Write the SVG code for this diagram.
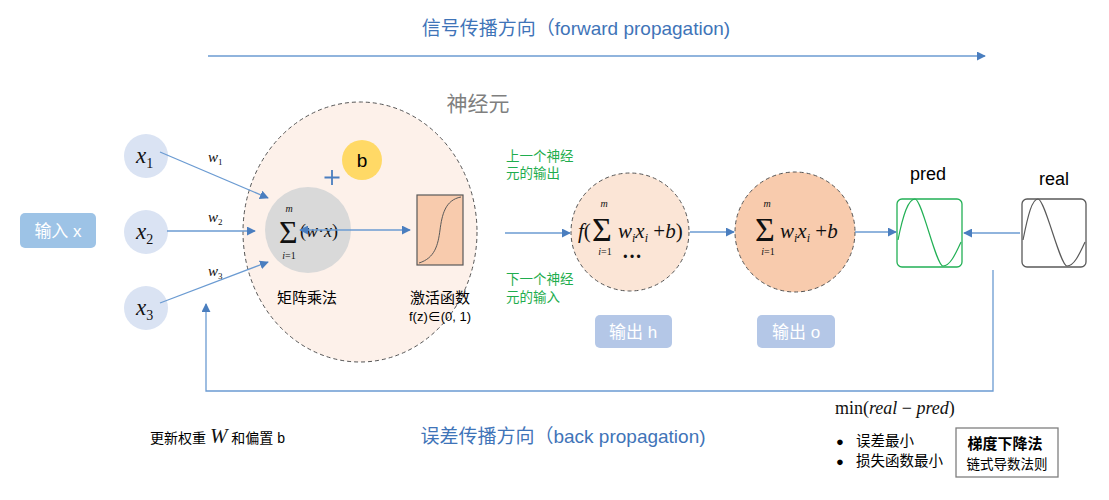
<svg xmlns="http://www.w3.org/2000/svg" width="1109" height="500" viewBox="0 0 1109 500">
<defs>
<marker id="arr" viewBox="0 0 10 10" refX="9" refY="5" markerWidth="9" markerHeight="9" markerUnits="userSpaceOnUse" orient="auto-start-reverse">
<path d="M0,0 L10,5 L0,10 z" fill="#4a7ebf"/>
</marker>
<style>
.line{stroke:#6b9bd2;stroke-width:1.3;fill:none}
.blue{font-family:"Liberation Sans","Noto Sans CJK SC",sans-serif;fill:#3f74b8}
.cn{font-family:"Liberation Sans","Noto Sans CJK SC",sans-serif}
.m{font-family:"Liberation Serif","DejaVu Serif",serif;font-style:italic;fill:#111}
.mu{font-family:"Liberation Serif","DejaVu Serif",serif;fill:#111}
.green{font-family:"Liberation Sans","Noto Sans CJK SC",sans-serif;fill:#1fad4e;font-size:13.5px}
.dash{stroke:#555;stroke-width:1;stroke-dasharray:4,3}
.tag{font-family:"Liberation Sans","Noto Sans CJK SC",sans-serif;fill:#fff;font-size:17px}
</style>
</defs>
<rect width="1109" height="500" fill="#fff"/>

<g id="titles">
<text class="blue" x="576" y="35" font-size="19" text-anchor="middle">信号传播方向（forward propagation)</text>
<text class="blue" x="563" y="443" font-size="19" text-anchor="middle">误差传播方向（back propagation)</text>
</g>

<g id="neuron">
<ellipse cx="360" cy="232" rx="117" ry="130" fill="#fdf1ea" class="dash"/>
<text class="cn" x="478" y="111" font-size="21" fill="#7f7f7f" text-anchor="middle">神经元</text>
</g>

<g id="input-label">
<rect x="20" y="213" width="76" height="35" rx="5" fill="#9dc3e6"/>
<text class="tag" x="58" y="237" text-anchor="middle">输入 x</text>
</g>

<g id="x1"><circle cx="146" cy="156" r="22" fill="#dae3f3"/>
<text class="m" x="136" y="163" font-size="23">x<tspan font-style="normal" font-size="14" dy="5">1</tspan></text></g>
<g id="x2"><circle cx="146" cy="232" r="22" fill="#dae3f3"/>
<text class="m" x="136" y="239" font-size="23">x<tspan font-style="normal" font-size="14" dy="5">2</tspan></text></g>
<g id="x3"><circle cx="146" cy="308" r="22" fill="#dae3f3"/>
<text class="m" x="136" y="315" font-size="23">x<tspan font-style="normal" font-size="14" dy="5">3</tspan></text></g>

<g id="sum">
<circle cx="308" cy="230" r="43" fill="#d9d9d9"/>
<text class="mu" x="279" y="243" font-size="32">Σ</text>
<text class="m" x="289" y="212" font-size="10" text-anchor="middle">m</text>
<text class="m" x="289" y="259" font-size="10" text-anchor="middle">i<tspan font-style="normal">=1</tspan></text>
<text class="m" x="300" y="237" font-size="18"><tspan font-style="normal">(</tspan>w<tspan font-style="normal">·</tspan>x<tspan font-style="normal">)</tspan></text>
<text class="cn" x="307" y="303" font-size="15" text-anchor="middle">矩阵乘法</text>
</g>

<g id="bias">
<circle cx="362" cy="160" r="20" fill="#ffd966"/>
<text class="cn" x="362" y="167" font-size="19" text-anchor="middle">b</text>
<path d="M332,170 V185 M324.5,177.5 H339.5" stroke="#4a7ebf" stroke-width="1.8"/>
</g>

<g id="activation">
<rect x="417" y="195" width="46" height="70" fill="#f8cbad" stroke="#595959" stroke-width="1.2"/>
<path d="M419,263 C435,258 438,245 440,230 C442,215 445,200 461,197" fill="none" stroke="#595959" stroke-width="1"/>
<text class="cn" x="440" y="303" font-size="15" text-anchor="middle">激活函数</text>
<text class="cn" x="440" y="321" font-size="13" text-anchor="middle">f(z)∈(0, 1)</text>
</g>

<g id="weights">
<text class="m" x="208" y="162" font-size="15">w<tspan font-style="normal" font-size="9" dy="3">1</tspan></text>
<text class="m" x="208" y="222" font-size="15">w<tspan font-style="normal" font-size="9" dy="3">2</tspan></text>
<text class="m" x="208" y="276" font-size="15">w<tspan font-style="normal" font-size="9" dy="3">3</tspan></text>
</g>

<g id="notes">
<text class="green" x="506" y="161">上一个神经</text>
<text class="green" x="506" y="178">元的输出</text>
<text class="green" x="506" y="284">下一个神经</text>
<text class="green" x="506" y="302">元的输入</text>
</g>

<g id="h">
<circle cx="630" cy="232" r="59" fill="#fbe5d6" class="dash"/>
<text class="m" x="578" y="238" font-size="21">f<tspan font-style="normal">(</tspan></text>
<text class="mu" x="592" y="241" font-size="34">Σ</text>
<text class="m" x="604" y="207" font-size="10" text-anchor="middle">m</text>
<text class="m" x="605" y="255" font-size="10" text-anchor="middle">i<tspan font-style="normal">=1</tspan></text>
<text class="m" x="618" y="238" font-size="21">w<tspan font-size="12" dy="4">i</tspan><tspan dy="-4">x</tspan><tspan font-size="12" dy="4">i</tspan><tspan dy="-4" font-style="normal"> +</tspan>b<tspan font-style="normal">)</tspan></text>
<text class="mu" x="632" y="263" font-size="20" text-anchor="middle" font-weight="bold">···</text>
<rect x="595" y="315" width="77" height="33" rx="5" fill="#b4c7e7"/>
<text class="tag" x="633" y="338" text-anchor="middle">输出 h</text>
</g>

<g id="o">
<circle cx="795" cy="232" r="60" fill="#f8cbad" class="dash"/>
<text class="mu" x="755" y="241" font-size="34">Σ</text>
<text class="m" x="767" y="207" font-size="10" text-anchor="middle">m</text>
<text class="m" x="768" y="255" font-size="10" text-anchor="middle">i<tspan font-style="normal">=1</tspan></text>
<text class="m" x="780" y="238" font-size="21">w<tspan font-size="12" dy="4">i</tspan><tspan dy="-4">x</tspan><tspan font-size="12" dy="4">i</tspan><tspan dy="-4" font-style="normal"> +</tspan>b</text>
<rect x="757" y="315" width="78" height="33" rx="5" fill="#b4c7e7"/>
<text class="tag" x="796" y="338" text-anchor="middle">输出 o</text>
</g>

<g id="pred">
<text class="cn" x="928" y="180" font-size="18" text-anchor="middle">pred</text>
<rect x="897" y="199" width="65" height="68" rx="5" fill="#fff" stroke="#22b055" stroke-width="1.3"/>
<path d="M898,240 C903,215 908,199 915,199 C922,199 936,266 943,266 C950,266 955,255 961,242" fill="none" stroke="#22b055" stroke-width="1.2"/>
</g>

<g id="real">
<text class="cn" x="1054" y="185" font-size="18" text-anchor="middle">real</text>
<rect x="1022" y="199" width="64" height="68" rx="5" fill="#fff" stroke="#595959" stroke-width="1.3"/>
<path d="M1023,240 C1028,215 1032,199 1038,199 C1045,199 1060,266 1067,266 C1074,266 1079,255 1085,242" fill="none" stroke="#595959" stroke-width="1.2"/>
</g>

<g id="connectors">
<line class="line" x1="208" y1="56" x2="985" y2="56" marker-end="url(#arr)"/>
<line class="line" x1="160" y1="152" x2="268" y2="198" marker-end="url(#arr)"/>
<line class="line" x1="167" y1="231" x2="255" y2="231" marker-end="url(#arr)"/>
<line class="line" x1="160" y1="303" x2="268" y2="262" marker-end="url(#arr)"/>
<line class="line" x1="300" y1="230" x2="410" y2="230" marker-start="url(#arr)" marker-end="url(#arr)"/>
<line class="line" x1="505" y1="233" x2="570" y2="233" marker-end="url(#arr)"/>
<line class="line" x1="690" y1="232" x2="734" y2="232" marker-end="url(#arr)"/>
<line class="line" x1="855" y1="232" x2="896" y2="232" marker-end="url(#arr)"/>
<line class="line" x1="1020" y1="233" x2="964" y2="233" marker-end="url(#arr)"/>
<polyline class="line" points="993,270 993,391 206,391 206,304" marker-end="url(#arr)"/>
</g>

<g id="update">
<text class="cn" x="150" y="443" font-size="14">更新权重 <tspan class="m" font-size="21">W</tspan> 和偏置 b</text>
</g>

<g id="loss">
<text class="mu" x="835" y="414" font-size="18">min(<tspan font-style="italic">real</tspan> − <tspan font-style="italic">pred</tspan>)</text>
<text class="cn" x="836" y="446" font-size="13">●</text>
<text class="cn" x="856" y="446" font-size="14.5">误差最小</text>
<text class="cn" x="836" y="466" font-size="13">●</text>
<text class="cn" x="856" y="466" font-size="14.5">损失函数最小</text>
<rect x="956" y="428" width="102" height="49" fill="#fff" stroke="#7f7f7f" stroke-width="1.3"/>
<text class="cn" x="1005" y="449" font-size="15" font-weight="bold" text-anchor="middle">梯度下降法</text>
<text class="cn" x="1007" y="469" font-size="13.5" text-anchor="middle">链式导数法则</text>
</g>
</svg>
